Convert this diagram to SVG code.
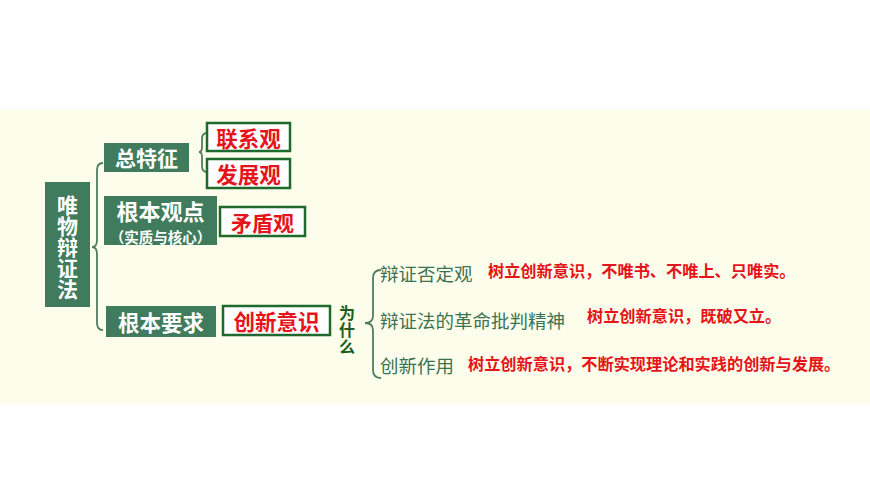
<svg xmlns="http://www.w3.org/2000/svg" width="870" height="489" viewBox="0 0 870 489">
<style>
.gbox{fill:#3f7b5c}
.wbox{fill:#ffffff;stroke:#1e6a2c;stroke-width:2.5}
.wt{fill:#ffffff;font-family:"Noto Sans CJK SC","Noto Sans",sans-serif;font-weight:bold;text-anchor:middle;dominant-baseline:central}
.rt{fill:#e5141a;font-family:"Noto Sans CJK SC","Noto Sans",sans-serif;font-weight:bold;dominant-baseline:central}
.gt{fill:#3b7352;font-family:"Noto Sans CJK SC","Noto Sans",sans-serif;font-size:18.5px;dominant-baseline:central}
.vt{writing-mode:vertical-rl;font-family:"Noto Sans CJK SC","Noto Sans",sans-serif;font-weight:bold}
.br{fill:none;stroke:#4f7d60;stroke-width:1.8}
</style>
<rect x="0" y="0" width="870" height="489" fill="#ffffff"/>
<rect x="0" y="109" width="870" height="295" fill="#fdfdeb"/>

<g id="connectors">
<path class="br" d="M103,163 Q97,163 97,170 L97,240 Q97,247 92,247 Q97,247 97,254 L97,323 Q97,330 103,330"/>
<path class="br" d="M207,133 Q202,133 202,139 L202,147 Q202,152 199,152 Q202,152 202,157 L202,166 Q202,172 207,172"/>
<path class="br" d="M381,270 Q373,270 373,278 L373,316 Q373,323 365,323 Q373,323 373,330 L373,370 Q373,378 381,378"/>
</g>

<g id="root">
<rect class="gbox" x="45" y="182" width="45" height="125"/>
<text class="vt" fill="#ffffff" font-size="21" x="67.5" y="195">唯物辩证法</text>
</g>

<g id="zongtezheng">
<rect class="gbox" x="104" y="143" width="85" height="29"/>
<text class="wt" font-size="21" x="146.5" y="157">总特征</text>
</g>

<g id="genbenguandian">
<rect class="gbox" x="104" y="196" width="113" height="49"/>
<text class="wt" font-size="22" x="160.5" y="210">根本观点</text>
<text class="wt" font-size="14.5" x="160.5" y="236">（实质与核心）</text>
</g>

<g id="genbenyaoqiu">
<rect class="gbox" x="106" y="306" width="110" height="31"/>
<text class="wt" font-size="21.5" x="161" y="321">根本要求</text>
</g>

<g id="lianxiguan">
<rect class="wbox" x="207" y="123" width="83" height="28"/>
<text class="rt" font-size="21.5" x="248.5" y="137" text-anchor="middle">联系观</text>
</g>

<g id="fazhanguan">
<rect class="wbox" x="207" y="159" width="83" height="29"/>
<text class="rt" font-size="21.5" x="248.5" y="173.5" text-anchor="middle">发展观</text>
</g>

<g id="maodunguan">
<rect class="wbox" x="220" y="207" width="85" height="29"/>
<text class="rt" font-size="21" x="262.5" y="221.5" text-anchor="middle">矛盾观</text>
</g>

<g id="chuangxinyishi">
<rect class="wbox" x="223" y="306" width="107" height="29"/>
<text class="rt" font-size="21.5" x="276.5" y="320.5" text-anchor="middle">创新意识</text>
</g>

<g id="weishenme">
<text class="vt" fill="#1c5e1f" font-size="16" letter-spacing="1" x="347" y="305">为什么</text>
</g>

<g id="item1">
<text class="gt" x="380" y="273">辩证否定观</text>
<text class="rt" font-size="16.2" x="488" y="270">树立创新意识，不唯书、不唯上、只唯实。</text>
</g>

<g id="item2">
<text class="gt" x="380" y="320">辩证法的革命批判精神</text>
<text class="rt" font-size="16.2" x="587" y="315">树立创新意识，既破又立。</text>
</g>

<g id="item3">
<text class="gt" x="380" y="365">创新作用</text>
<text class="rt" font-size="16.2" x="468" y="363">树立创新意识，不断实现理论和实践的创新与发展。</text>
</g>
</svg>
